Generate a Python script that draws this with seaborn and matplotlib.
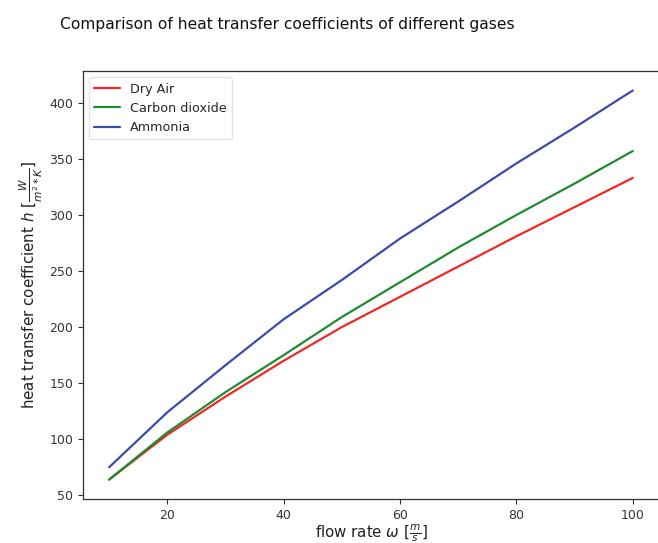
import matplotlib
matplotlib.use("Agg")
import matplotlib.pyplot as plt
import seaborn as sns
import pandas as pd

# Flow rate [m/s]
flow_rate = [10, 20, 30, 40, 50, 60, 70, 80, 90, 100]

# Heat transfer coefficient h [W/(m^2*K)] for each gas
dry_air = [64, 104, 138, 170, 200, 227, 254, 281, 307, 333]
carbon_dioxide = [64, 106, 142, 175, 209, 240, 271, 300, 328, 357]
ammonia = [75, 124, 166, 207, 242, 279, 312, 346, 378, 411]

gases = ["Dry Air", "Carbon dioxide", "Ammonia"]
colors = ["#f02828", "#208a30", "#3a4cab"]

df = pd.DataFrame({
    "flow": flow_rate * 3,
    "h": dry_air + carbon_dioxide + ammonia,
    "gas": [g for g in gases for _ in flow_rate],
})

sns.set_style("ticks")
plt.rcParams["font.family"] = ["DejaVu Sans"]

fig = plt.figure(figsize=(6.58, 5.43), dpi=100)
ax = fig.add_axes([0.1261, 0.0810, 0.8754, 0.7882])

sns.lineplot(data=df, x="flow", y="h", hue="gas", hue_order=gases,
             palette=colors, linewidth=1.6, ax=ax)

ax.set_xticks([20, 40, 60, 80, 100])
ax.set_yticks([50, 100, 150, 200, 250, 300, 350, 400])
ax.tick_params(labelsize=9, colors="#333333", length=3.5)
for s in ax.spines.values():
    s.set_color("#333333")
    s.set_linewidth(0.9)

ax.set_xlabel(r"flow rate $\omega$ [$\frac{m}{s}$]", fontsize=10.8,
              color="#222222", labelpad=1)
ax.set_ylabel(r"heat transfer coefficient $h$ [$\frac{W}{m^2*K}$]", fontsize=10.9,
              color="#222222", labelpad=3)

leg = ax.legend(loc="upper left", fontsize=9.2, frameon=True)
leg.get_frame().set_edgecolor("#dddddd")

fig.text(0.436, 0.954, "Comparison of heat transfer coefficients of different gases",
         ha="center", va="center", fontsize=11.2, color="#111111")

fig.savefig("out.png", dpi=100, facecolor="white")
